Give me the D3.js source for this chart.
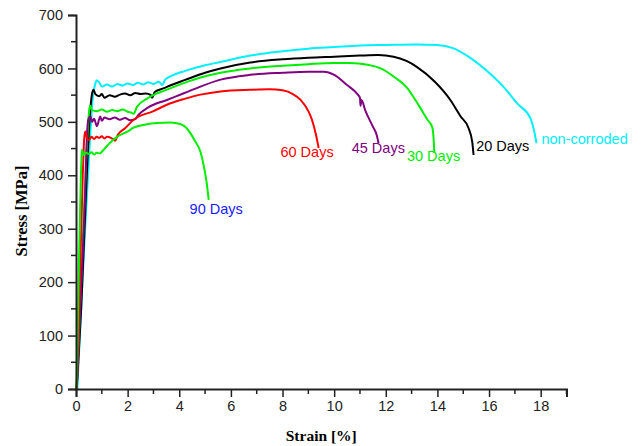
<!DOCTYPE html>
<html>
<head>
<meta charset="utf-8">
<script src="https://cdn.jsdelivr.net/npm/d3@7"></script>
<style>
  body { margin: 0; background: #fff; }
  svg { display: block; }
</style>
</head>
<body>
<div id="chart"></div>
<script>
// [strain %, stress MPa]
const nonCorroded = [[0.05,0],[0.3,250],[0.5,430],[0.65,545],[0.75,572],[0.8,578],[0.9,574],[1.0,566],[1.2,570],[1.4,566],[1.6,571],[1.8,568],[2.0,572],[2.2,569],[2.4,573],[2.6,570],[2.8,574],[3.0,571],[3.2,575],[3.35,569],[3.45,579],[3.7,586],[4.2,595],[5.0,606],[5.6,612],[6.75,624],[8,632],[9,637],[10,640],[11,643],[12,644],[13.2,645],[14,644],[14.6,638],[15.2,622],[15.9,596],[16.55,566],[17.1,534],[17.6,507],[17.75,482],[17.84,460]];
const days20 = [[0.03,0],[0.2,150],[0.4,380],[0.55,520],[0.63,555],[0.68,560],[0.75,552],[0.9,548],[1.0,552],[1.1,545],[1.3,550],[1.5,547],[1.7,551],[1.9,553],[2.1,550],[2.3,554],[2.5,552],[2.7,553],[2.9,550],[2.95,545],[3.05,556],[3.4,563],[3.7,569],[4.2,578],[5.0,592],[5.6,600],[6.75,611],[8,617],[9,620],[10,622],[11,624],[11.7,625],[12.3,622],[12.8,614],[13.2,603],[13.9,575],[14.5,541],[14.9,510],[15.2,489],[15.35,462],[15.4,438]];
const days30 = [[0.02,0],[0.2,200],[0.35,380],[0.45,480],[0.52,525],[0.56,530],[0.62,522],[0.8,520],[1.0,523],[1.2,519],[1.4,522],[1.6,520],[1.8,523],[2.0,519],[2.15,517],[2.23,515],[2.36,528],[2.8,545],[3.5,560],[4.2,573],[4.82,583],[5.6,592],[6.75,600],[8,605],[9,608],[10,610],[10.6,610],[11.3,607],[11.8,600],[12.3,585],[12.8,565],[13.3,529],[13.6,505],[13.8,490],[13.85,470],[13.88,442]];
const days45 = [[0.02,0],[0.2,190],[0.35,360],[0.42,470],[0.48,505],[0.56,510],[0.62,500],[0.7,506],[0.81,492],[0.94,510],[1.0,502],[1.1,508],[1.3,505],[1.5,508],[1.7,504],[1.9,507],[2.1,503],[2.3,505],[2.4,512],[2.8,527],[3.52,541],[4.2,554],[4.82,566],[5.6,579],[6.75,588],[8,592],[9,594],[9.6,594],[10.0,588],[10.5,569],[10.9,552],[11.0,545],[11.02,530],[11.06,541],[11.2,522],[11.5,491],[11.65,475],[11.72,460]];
const days60 = [[0.03,0],[0.15,200],[0.25,380],[0.32,470],[0.36,482],[0.42,470],[0.5,466],[0.6,472],[0.7,468],[0.8,472],[0.9,470],[1.0,473],[1.1,469],[1.2,472],[1.35,470],[1.45,467],[1.52,465],[1.62,476],[1.9,488],[2.23,504],[3.0,520],[3.52,532],[4.2,543],[4.82,551],[5.6,557],[6.75,560],[7.5,561],[8.0,559],[8.4,552],[8.7,541],[9.0,520],[9.14,504],[9.3,475],[9.4,451]];
const days90 = [[0.02,0],[0.1,200],[0.18,380],[0.22,440],[0.23,448],[0.3,438],[0.4,442],[0.5,440],[0.6,443],[0.7,439],[0.8,442],[0.94,441],[1.0,444],[1.3,460],[1.59,472],[2.0,482],[2.23,489],[2.7,495],[3.13,498],[3.65,499],[4.04,496],[4.25,490],[4.43,479],[4.6,465],[4.82,444],[4.94,420],[5.05,390],[5.14,354]];

const seriesNames = ["non-corroded", "20 Days", "30 Days", "45 Days", "60 Days", "90 Days"];
const seriesData = [nonCorroded, days20, days30, days45, days60, days90];
const lineColors = ["#00f0ff", "#000000", "#00ee00", "#800080", "#ff0000", "#00ee00"];
const labelColors = ["#00f0ff", "#000000", "#00ee00", "#800080", "#ff0000", "#1a1aff"];
// label anchor (left, baseline) in data units
const labelPos = [[18.03,458],[15.5,446],[12.82,426],[10.68,442],[7.92,435],[4.4,327]];

const xMajor = [0, 2, 4, 6, 8, 10, 12, 14, 16, 18];
const xMinor = [1, 3, 5, 7, 9, 11, 13, 15, 17, 19];
const yMajor = [0, 100, 200, 300, 400, 500, 600, 700];
const yMinor = [50, 150, 250, 350, 450, 550, 650];

const width = 643, height = 446;
const x = d3.scaleLinear().domain([0, 19]).range([76, 566.5]);
const y = d3.scaleLinear().domain([0, 700]).range([389, 15]);

const svg = d3.select("#chart").append("svg")
  .attr("width", width).attr("height", height);

const tickFont = "'Liberation Sans', Arial, sans-serif";
const titleFont = "'Liberation Serif', 'Times New Roman', serif";

// curves first, axes on top
const line = d3.line()
  .x(d => x(d[0]))
  .y(d => y(d[1]))
  .curve(d3.curveMonotoneX);
svg.append("g").selectAll("path")
  .data(seriesData)
  .join("path")
  .attr("d", line)
  .attr("fill", "none")
  .attr("stroke", (d, i) => lineColors[i])
  .attr("stroke-width", 2)
  .attr("stroke-linejoin", "round");

svg.append("g").selectAll("text")
  .data(seriesNames)
  .join("text")
  .attr("x", (d, i) => x(labelPos[i][0]))
  .attr("y", (d, i) => y(labelPos[i][1]))
  .attr("fill", (d, i) => labelColors[i])
  .style("font-family", tickFont)
  .style("font-size", "14.5px")
  .text(d => d);

// axes
const xAxis = svg.append("g")
  .attr("transform", `translate(0,${y(0)})`)
  .call(d3.axisBottom(x).tickValues(xMajor).tickSize(8).tickPadding(4).tickFormat(d3.format("d")));
svg.append("g").selectAll("line")
  .data(xMinor)
  .join("line")
  .attr("x1", d => x(d)).attr("x2", d => x(d))
  .attr("y1", y(0)).attr("y2", y(0) + 5)
  .attr("stroke", "#222").attr("stroke-width", 1.5);

const yAxis = svg.append("g")
  .attr("transform", `translate(${x(0)},0)`)
  .call(d3.axisLeft(y).tickValues(yMajor).tickSize(8).tickPadding(5));
svg.append("g").selectAll("line")
  .data(yMinor)
  .join("line")
  .attr("x1", x(0)).attr("x2", x(0) - 5)
  .attr("y1", d => y(d)).attr("y2", d => y(d))
  .attr("stroke", "#222").attr("stroke-width", 1.5);

[xAxis, yAxis].forEach(a => {
  a.select(".domain").attr("stroke", "#222").attr("stroke-width", 2);
  a.selectAll(".tick line").attr("stroke", "#222").attr("stroke-width", 1.5);
  a.selectAll(".tick text")
    .style("font-family", tickFont)
    .style("font-size", "14.5px")
    .attr("fill", "#222");
});

svg.append("text")
  .attr("x", (x(0) + x(19)) / 2)
  .attr("y", 441)
  .attr("text-anchor", "middle")
  .style("font-family", titleFont)
  .style("font-size", "15.5px")
  .style("font-weight", "bold")
  .text("Strain [%]");

svg.append("text")
  .attr("transform", `translate(27,211) rotate(-90)`)
  .attr("text-anchor", "middle")
  .style("font-family", titleFont)
  .style("font-size", "16.5px")
  .style("font-weight", "bold")
  .text("Stress [MPa]");
</script>
</body>
</html>
